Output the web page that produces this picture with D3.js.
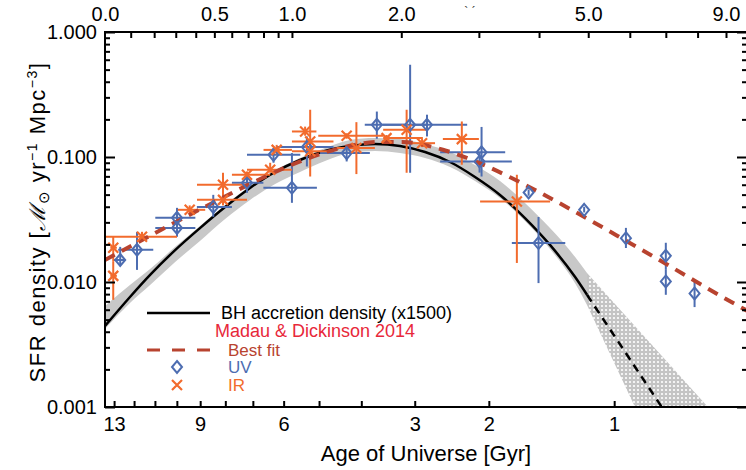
<!DOCTYPE html>
<html>
<head>
<meta charset="utf-8">
<script src="https://cdn.jsdelivr.net/npm/d3@7"></script>
<style>
  body { margin: 0; background: #fff; }
  text { font-family: "Liberation Sans", Arial, sans-serif; }
</style>
</head>
<body>
<div id="chart"></div>
<script>
// ---- data (redshift z, SFR density in Msun/yr/Mpc^3) ----

// UV points
var uvZ    = [0.058, 0.126, 0.306, 0.306, 0.494, 0.693, 1.000, 0.868, 1.114, 1.45, 1.74, 2.10, 2.30, 3.04, 3.01, 3.81, 3.99, 4.91, 5.90, 7.0, 7.0, 7.9];
var uvZlo  = [0.031, 0.050, 0.205, 0.205, 0.406, 0.601, 0.799, 0.693, 0.892, 1.22, 1.62, 1.80, 2.10, 2.465, 2.465, 3.81, 3.52, 4.91, 5.90, 7.0, 7.0, 7.9];
var uvZhi  = [0.078, 0.196, 0.398, 0.398, 0.601, 0.799, 1.194, 1.063, 1.333, 1.67, 2.06, 2.30, 2.83, 3.41, 3.52, 3.81, 4.51, 4.91, 5.90, 7.0, 7.0, 7.9];
var uvSfr  = [0.0150, 0.0181, 0.0326, 0.0271, 0.0399, 0.0621, 0.0567, 0.104, 0.120, 0.1075, 0.181, 0.181, 0.181, 0.109, 0.092, 0.052, 0.0205, 0.0378, 0.0224, 0.0162, 0.0101, 0.0081];
var uvLo   = [0.0137, 0.0125, 0.0271, 0.0230, 0.0332, 0.0517, 0.0430, 0.090, 0.084, 0.0921, 0.140, 0.0748, 0.146, 0.0698, 0.075, 0.049, 0.0098, 0.036, 0.0187, 0.0125, 0.0079, 0.0063];
var uvHi   = [0.0191, 0.0252, 0.0392, 0.0326, 0.0498, 0.0748, 0.1075, 0.118, 0.146, 0.120, 0.231, 0.547, 0.218, 0.174, 0.110, 0.055, 0.0331, 0.040, 0.0271, 0.0206, 0.0125, 0.0104];

// IR points
var irZ    = [0.031, 0.031, 0.147, 0.369, 0.549, 0.549, 0.693, 0.845, 0.89, 1.10, 1.14, 1.14, 1.45, 1.54, 1.84, 2.06, 2.24, 2.755, 3.605];
var irZlo  = [0.020, 0.020, 0.000, 0.310, 0.4065, 0.4065, 0.601, 0.693, 0.80, 1.00, 1.00, 1.00, 1.205, 1.36, 1.805, 1.805, 2.10, 2.50, 3.018];
var irZhi  = [0.045, 0.045, 0.306, 0.450, 0.693, 0.693, 0.845, 1.000, 1.00, 1.19, 1.333, 1.333, 1.805, 1.72, 2.25, 2.30, 2.40, 3.00, 4.209];
var irSfr  = [0.0188, 0.0112, 0.0230, 0.0378, 0.0599, 0.0454, 0.0721, 0.0791, 0.114, 0.160, 0.133, 0.111, 0.148, 0.118, 0.1416, 0.165, 0.129, 0.139, 0.044];
var irLo   = [0.0145, 0.0072, 0.0210, 0.0350, 0.0480, 0.0410, 0.0680, 0.0748, 0.105, 0.148, 0.0698, 0.100, 0.140, 0.073, 0.135, 0.0748, 0.120, 0.0867, 0.0142];
var irHi   = [0.0230, 0.0145, 0.0252, 0.0410, 0.0748, 0.0500, 0.0767, 0.0899, 0.125, 0.175, 0.2388, 0.122, 0.155, 0.190, 0.150, 0.2388, 0.140, 0.1924, 0.0721];

// Madau & Dickinson 2014 best fit
var mdZ   = [0, 0.25, 0.5, 0.75, 1, 1.25, 1.5, 1.75, 2, 2.5, 3, 3.5, 4, 5, 6, 7, 8, 9, 10, 10.8];
var mdSfr = [0.0150, 0.0272, 0.0437, 0.0642, 0.0867, 0.1079, 0.1240, 0.1321, 0.1319, 0.1142, 0.0898, 0.0685, 0.0523, 0.0318, 0.0205, 0.0140, 0.0099, 0.0073, 0.0056, 0.0045];

// BH accretion density (x1500) with its band
var bhZ   = [0, 0.097, 0.182, 0.297, 0.422, 0.561, 0.712, 0.879, 1.061, 1.261, 1.481, 1.722, 1.986, 2.276, 2.594, 2.943, 3.326, 3.746, 4.207, 4.712, 4.973];
var bhSfr = [0.00445, 0.00759, 0.0114, 0.0180, 0.0270, 0.0398, 0.0565, 0.0759, 0.0946, 0.1117, 0.1225, 0.1271, 0.1225, 0.1096, 0.0912, 0.0692, 0.0497, 0.0325, 0.0198, 0.0110, 0.0079];
var bhHi  = [0.00643, 0.00946, 0.0127, 0.0191, 0.0281, 0.0413, 0.0586, 0.0787, 0.0982, 0.118, 0.1368, 0.1419, 0.1393, 0.1271, 0.1096, 0.0863, 0.0643, 0.0429, 0.0270, 0.0159, 0.0118];
var bhLo  = [0.00421, 0.00679, 0.00946, 0.01445, 0.0213, 0.0319, 0.0453, 0.0608, 0.0759, 0.0929, 0.1076, 0.1117, 0.1076, 0.0982, 0.0832, 0.0643, 0.0470, 0.0308, 0.0184, 0.0098, 0.00655];
// extrapolated part (dashed line, dotted band)
var bhExtZ   = [4.973, 6.88];
var bhExtSfr = [0.0079, 0.0010];
var bandHiZ  = [4.973, 8.35];
var bandHiV  = [0.0118, 0.0010];
var bandLoZ  = [4.973, 6.14];
var bandLoV  = [0.00655, 0.0010];

// axis ticks
var ageTicks  = [13, 12, 11, 10, 9, 8, 7, 6, 5, 4, 3, 2, 1];
var ageLabels = [13, 9, 6, 3, 2, 1];
var zTicks    = [0.1, 0.2, 0.3, 0.4, 0.5, 0.6, 0.7, 0.8, 0.9, 1, 2, 3, 4, 5, 6, 7, 8, 9];
var zLabels   = [0, 0.5, 1, 2, 5, 9];
var yMajor    = [0.001, 0.01, 0.1, 1];

// ---- layout ----
var width = 746, height = 470;
var plotL = 105, plotR = 747, plotT = 32, plotB = 407;

var blue = "#4d6db1", orange = "#f26b2d", rust = "#b8432f";

var svg = d3.select("#chart").append("svg")
    .attr("width", width)
    .attr("height", height);

// x is linear in log(1+z)
var x = d3.scaleLog().domain([1, 10.81]).range([plotL, plotR]);
var y = d3.scaleLog().domain([0.001, 1]).range([plotB, plotT]);
var X = function(z) { return x(1 + z); };

// flat LCDM age, H0=70, Om=0.3
function ageGyr(z) {
  var tH = 977.8 / 70, Om = 0.3, OL = 0.7;
  return 2 / (3 * Math.sqrt(OL)) * tH * Math.asinh(Math.sqrt(OL / Om) * Math.pow(1 + z, -1.5));
}
function zAtAge(t) {
  var lo = 0, hi = 50;
  for (var i = 0; i < 80; i++) {
    var mid = (lo + hi) / 2;
    if (ageGyr(mid) > t) lo = mid; else hi = mid;
  }
  return (lo + hi) / 2;
}

var defs = svg.append("defs");
defs.append("clipPath").attr("id", "plotclip")
  .append("rect").attr("x", plotL).attr("y", plotT)
  .attr("width", plotR - plotL).attr("height", plotB - plotT);

var pat = defs.append("pattern").attr("id", "dots")
    .attr("patternUnits", "userSpaceOnUse")
    .attr("width", 4).attr("height", 4);
pat.append("rect").attr("width", 4).attr("height", 4).attr("fill", "#c4c4c4");
pat.append("circle").attr("cx", 2).attr("cy", 2).attr("r", 1.1).attr("fill", "#fff");

var plot = svg.append("g").attr("clip-path", "url(#plotclip)");

// dotted band for the extrapolated part (ends pushed below the axis, clipped)
plot.append("path")
    .attr("d", "M" + [X(bandHiZ[0]), y(bandHiV[0])] +
               "L" + [X(bandHiZ[1]) + 10, y(bandHiV[1]) + 11] +
               "L" + [X(bandLoZ[1]) + 5, y(bandLoV[1]) + 11] +
               "L" + [X(bandLoZ[0]), y(bandLoV[0])] + "Z")
    .attr("fill", "url(#dots)");

// grey band
var area = d3.area()
    .x(function(d, i) { return X(bhZ[i]); })
    .y0(function(d, i) { return y(bhLo[i]); })
    .y1(function(d, i) { return y(bhHi[i]); })
    .curve(d3.curveMonotoneX);
plot.append("path")
    .datum(bhZ)
    .attr("d", area)
    .attr("fill", "#c8c8c8");

// BH line
var line = d3.line().curve(d3.curveMonotoneX);
plot.append("path")
    .attr("d", line(bhZ.map(function(z, i) { return [X(z), y(bhSfr[i])]; })))
    .attr("fill", "none").attr("stroke", "#000").attr("stroke-width", 2.5);
plot.append("path")
    .attr("d", line(bhExtZ.map(function(z, i) { return [X(z), y(bhExtSfr[i])]; })))
    .attr("fill", "none").attr("stroke", "#000").attr("stroke-width", 2.5)
    .attr("stroke-dasharray", "8,6");

// error bars
function errorBars(zs, zlo, zhi, v, vlo, vhi, col) {
  var g = plot.append("g").attr("stroke", col).attr("stroke-width", 2);
  zs.forEach(function(z, i) {
    if (zhi[i] > zlo[i])
      g.append("line").attr("x1", X(zlo[i])).attr("x2", X(zhi[i]))
        .attr("y1", y(v[i])).attr("y2", y(v[i]));
    g.append("line").attr("x1", X(z)).attr("x2", X(z))
      .attr("y1", y(vlo[i])).attr("y2", y(vhi[i]));
  });
}
errorBars(uvZ, uvZlo, uvZhi, uvSfr, uvLo, uvHi, blue);
errorBars(irZ, irZlo, irZhi, irSfr, irLo, irHi, orange);

// Madau & Dickinson fit
plot.append("path")
    .attr("d", line(mdZ.map(function(z, i) { return [X(z), y(mdSfr[i])]; })))
    .attr("fill", "none").attr("stroke", rust).attr("stroke-width", 4)
    .attr("stroke-dasharray", "11,8");

// markers
function diamond(g, cx, cy) {
  g.append("path")
    .attr("d", "M" + cx + "," + (cy - 6) + "L" + (cx + 5) + "," + cy + "L" + cx + "," + (cy + 6) + "L" + (cx - 5) + "," + cy + "Z")
    .attr("fill", "none").attr("stroke", blue).attr("stroke-width", 2);
}
function cross(g, cx, cy) {
  g.append("path")
    .attr("d", "M" + (cx - 5) + "," + (cy - 5) + "L" + (cx + 5) + "," + (cy + 5) + "M" + (cx - 5) + "," + (cy + 5) + "L" + (cx + 5) + "," + (cy - 5))
    .attr("fill", "none").attr("stroke", orange).attr("stroke-width", 2.2);
}
var mk = plot.append("g");
uvZ.forEach(function(z, i) { diamond(mk, X(z), y(uvSfr[i])); });
irZ.forEach(function(z, i) { cross(mk, X(z), y(irSfr[i])); });

// ---- axes ----
function styleAxis(g) {
  g.select(".domain").remove();
  g.selectAll(".tick line").attr("stroke", "#000").attr("stroke-width", 2);
  g.selectAll("text").attr("fill", "#000").style("font-size", "20px")
    .style("font-family", "'Liberation Sans', Arial, sans-serif");
}

svg.append("g")
    .attr("transform", "translate(0," + plotB + ")")
    .call(d3.axisBottom(x)
      .tickValues(ageTicks.map(function(t) { return 1 + zAtAge(t); }))
      .tickSize(-6).tickSizeOuter(0).tickPadding(10)
      .tickFormat(function(d, i) { return ageLabels.indexOf(ageTicks[i]) >= 0 ? ageTicks[i] : ""; }))
    .call(styleAxis);

svg.append("g")
    .attr("transform", "translate(0," + plotT + ")")
    .call(d3.axisTop(x)
      .tickValues(zTicks.map(function(z) { return 1 + z; }))
      .tickSize(-6).tickSizeOuter(0)
      .tickFormat(""))
    .call(styleAxis);
svg.append("g")
    .attr("transform", "translate(0," + plotT + ")")
    .call(d3.axisTop(x)
      .tickValues(zLabels.map(function(z) { return 1 + z; }))
      .tickSize(0).tickPadding(11)
      .tickFormat(function(d) { return d3.format(".1f")(d - 1); }))
    .call(styleAxis);

var yMinor = [];
yMajor.slice(0, 3).forEach(function(m) { for (var k = 2; k <= 9; k++) yMinor.push(m * k); });

svg.append("g")
    .attr("transform", "translate(" + plotL + ",0)")
    .call(d3.axisLeft(y).tickValues(yMajor).tickSize(-10).tickPadding(8)
      .tickFormat(d3.format(".3f")))
    .call(styleAxis);
svg.append("g")
    .attr("transform", "translate(" + plotL + ",0)")
    .call(d3.axisLeft(y).tickValues(yMinor).tickSize(-5).tickFormat(""))
    .call(styleAxis);
svg.append("g")
    .attr("transform", "translate(" + plotR + ",0)")
    .call(d3.axisRight(y).tickValues(yMajor).tickSize(-10).tickFormat(""))
    .call(styleAxis);
svg.append("g")
    .attr("transform", "translate(" + plotR + ",0)")
    .call(d3.axisRight(y).tickValues(yMinor).tickSize(-5).tickFormat(""))
    .call(styleAxis);

// frame
svg.append("rect")
    .attr("x", plotL).attr("y", plotT)
    .attr("width", plotR - plotL).attr("height", plotB - plotT)
    .attr("fill", "none").attr("stroke", "#000").attr("stroke-width", 2);

// axis titles
svg.append("text")
    .attr("x", 426).attr("y", 461)
    .attr("text-anchor", "middle")
    .style("font-size", "22px")
    .text("Age of Universe [Gyr]");

var yt = svg.append("text")
    .attr("transform", "translate(45,222) rotate(-90)")
    .attr("text-anchor", "middle")
    .style("font-size", "22px")
    .style("letter-spacing", "1.5px");
yt.append("tspan").text("SFR density [");
yt.append("tspan").style("font-style", "italic").style("font-family", "'DejaVu Serif', serif").text("\u2133");
yt.append("tspan").style("font-size", "15px").attr("dy", 4).text("\u2299");
yt.append("tspan").attr("dy", -4).text(" yr");
yt.append("tspan").style("font-size", "14px").attr("dy", -8).text("\u22121");
yt.append("tspan").attr("dy", 8).text(" Mpc");
yt.append("tspan").style("font-size", "14px").attr("dy", -8).text("\u22123");
yt.append("tspan").attr("dy", 8).text("]");

// stray marks at top
svg.append("text").attr("x", 470).attr("y", 16).attr("text-anchor", "middle")
    .style("font-size", "12px").attr("fill", "#333").text("`  \u00b4");

// ---- legend ----
var lg = svg.append("g");
lg.append("line").attr("x1", 147).attr("x2", 210).attr("y1", 313).attr("y2", 313)
    .attr("stroke", "#000").attr("stroke-width", 2.5);
lg.append("text").attr("x", 221).attr("y", 319).style("font-size", "18px")
    .attr("fill", "#000").text("BH accretion density (x1500)");
lg.append("text").attr("x", 215).attr("y", 337).style("font-size", "18px")
    .attr("fill", "#e8283a").text("Madau & Dickinson 2014");
lg.append("line").attr("x1", 147).attr("x2", 210).attr("y1", 350).attr("y2", 350)
    .attr("stroke", rust).attr("stroke-width", 3).attr("stroke-dasharray", "13,12");
lg.append("text").attr("x", 228).attr("y", 356).style("font-size", "17px")
    .attr("fill", rust).text("Best fit");
diamond(lg, 177, 367);
lg.append("text").attr("x", 228).attr("y", 373).style("font-size", "17px")
    .attr("fill", blue).text("UV");
cross(lg, 177, 385);
lg.append("text").attr("x", 228).attr("y", 391).style("font-size", "17px")
    .attr("fill", orange).text("IR");
</script>
</body>
</html>
